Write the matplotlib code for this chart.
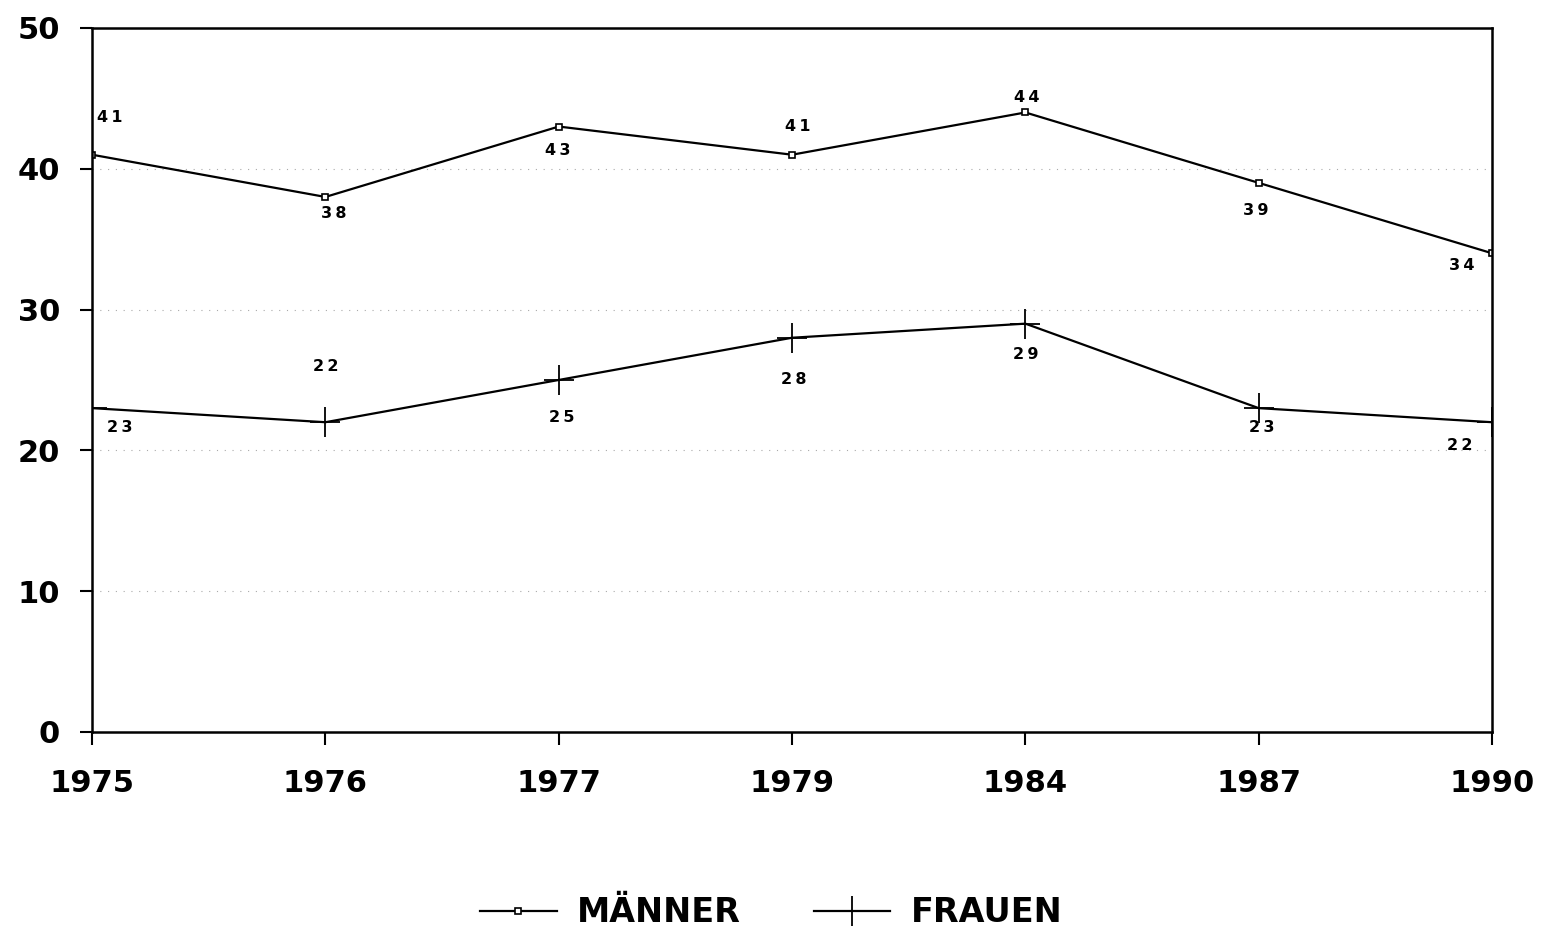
import matplotlib.pyplot as plt

years = ['1975', '1976', '1977', '1979', '1984', '1987', '1990']
maenner = [41, 38, 43, 41, 44, 39, 34]
frauen = [23, 22, 25, 28, 29, 23, 22]

# Lage der Wertebeschriftung: (dx, dy) in Punkten
off_m = [(13, 27), (6, -12), (-1, -17), (4, 20), (1, 11), (-2, -20), (-22, -9)]
off_f = [(20, -14), (0, 40), (2, -27), (1, -30), (0, -22), (2, -14), (-23, -17)]

plt.rcParams['font.family'] = ['DejaVu Sans']

fig = plt.figure(figsize=(15.42, 9.27), dpi=100)
ax = fig.add_axes([0.0597, 0.2104, 0.9079, 0.7594])

x = list(range(len(years)))
ax.plot(x, maenner, color='black', lw=1.6, marker='s', markersize=4,
        markerfacecolor='white', markeredgewidth=1.2, label='MÄNNER')
ax.plot(x, frauen, color='black', lw=1.6, marker='+', markersize=22,
        markeredgewidth=1.3, label='FRAUEN')

def spaced(v):
    return '\u2009'.join(str(v))

for i in x:
    ax.annotate(spaced(maenner[i]), (i, maenner[i]), xytext=off_m[i],
                textcoords='offset points', ha='center', va='center',
                fontsize=11.5, fontweight='bold')
    ax.annotate(spaced(frauen[i]), (i, frauen[i]), xytext=off_f[i],
                textcoords='offset points', ha='center', va='center',
                fontsize=11.5, fontweight='bold')

ax.set_xlim(0, len(years) - 1)
ax.set_ylim(0, 50)
ax.set_xticks(x)
ax.set_xticklabels(years)
ax.set_yticks([0, 10, 20, 30, 40, 50])
ax.tick_params(axis='both', direction='out', length=9, width=1.5,
               labelsize=22)
ax.tick_params(axis='x', pad=18)
ax.tick_params(axis='y', pad=14)
for lab in ax.get_xticklabels() + ax.get_yticklabels():
    lab.set_fontweight('bold')

ax.yaxis.grid(True, linestyle=(0, (1, 6)), color='#aaaaaa', lw=0.8)
for s in ax.spines.values():
    s.set_linewidth(1.8)

fig.legend(loc='lower center', bbox_to_anchor=(0.5, -0.035), ncol=2,
           frameon=False, handlelength=2.3, handletextpad=0.6,
           columnspacing=2.2, prop={'size': 24, 'weight': 'bold'})

fig.savefig('out.png', dpi=100, facecolor='white')
